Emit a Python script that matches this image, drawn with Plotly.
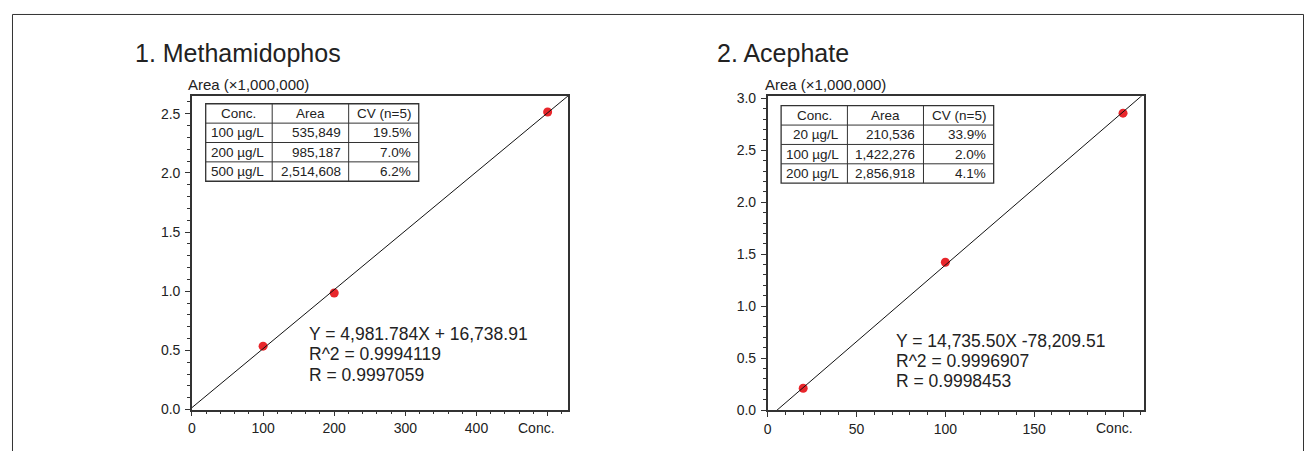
import plotly.graph_objects as go

# page is 1312x459; the browser body keeps an 8px margin, so the figure is
# sized to fit inside it and all reference pixel positions are shifted by 8px
PAGE_W, PAGE_H = 1312, 459
OFF = 8
FW, FH = PAGE_W - 2 * OFF, PAGE_H - 2 * OFF

# ---------------- data ----------------
titles = ["1. Methamidophos", "2. Acephate"]
conc1 = [100, 200, 500]
area1 = [535849, 985187, 2514608]
cv1 = ["19.5%", "7.0%", "6.2%"]
slope1, intercept1 = 4981.784, 16738.91
eq1 = ["Y = 4,981.784X + 16,738.91", "R^2 = 0.9994119", "R = 0.9997059"]

conc2 = [20, 100, 200]
area2 = [210536, 1422276, 2856918]
cv2 = ["33.9%", "2.0%", "4.1%"]
slope2, intercept2 = 14735.50, -78209.51
eq2 = ["Y = 14,735.50X -78,209.51", "R^2 = 0.9996907", "R = 0.9998453"]

xticks1 = [0, 100, 200, 300, 400, 500]
xticks2 = [0, 50, 100, 150, 200]
yticks1 = [0.0, 0.5, 1.0, 1.5, 2.0, 2.5]
yticks2 = [0.0, 0.5, 1.0, 1.5, 2.0, 2.5, 3.0]
table_header = ["Conc.", "Area", "CV (n=5)"]
scale = 1e6

# ---------------- layout helpers ----------------
def px(x):
    return (x - OFF) / FW

def py(y):
    return 1 - (y - OFF) / FH

FONT = "Liberation Sans, Arial, sans-serif"
TXT = "#222222"
LINE = "#333333"
RED = "#e8262b"

fig = go.Figure()

panels = [
    dict(conc=conc1, area=area1, cv=cv1, slope=slope1, icpt=intercept1, eq=eq1,
         xr=[0, 529], yr=[0, 2.651], xt=xticks1, yt=yticks1, xminor=20,
         dom=[188.5, 566], ydom=[92.5, 416.5], xa="x", ya="y",
         title_x=129, area_x=183,
         tbl_x=[202.3, 269, 345.7, 416], tbl_y=100.7,
         eq_x=304, eq_y=338.8, conc_x=534.5),
    dict(conc=conc2, area=area2, cv=cv2, slope=slope2, icpt=intercept2, eq=eq2,
         xr=[0, 211.8], yr=[0, 3.019], xt=xticks2, yt=yticks2, xminor=10,
         dom=[766, 1143.5], ydom=[93, 417], xa="x2", ya="y2",
         title_x=713, area_x=761,
         tbl_x=[779.5, 846, 922.3, 992.7], tbl_y=102.7,
         eq_x=893, eq_y=345.5, conc_x=1113.7),
]

annotations = []
shapes = []

for i, p in enumerate(panels):
    # data points
    fig.add_trace(go.Scatter(
        x=p["conc"], y=[a / scale for a in p["area"]], mode="markers",
        marker=dict(color=RED, size=9), xaxis=p["xa"], yaxis=p["ya"],
        showlegend=False, hoverinfo="x+y"))
    # regression line
    lx = [0, p["xr"][1]]
    ly = [(p["slope"] * v + p["icpt"]) / scale for v in lx]
    fig.add_trace(go.Scatter(
        x=lx, y=ly, mode="lines", line=dict(color="#111111", width=1),
        xaxis=p["xa"], yaxis=p["ya"], showlegend=False, hoverinfo="skip"))

    axsuffix = "" if i == 0 else "2"
    fig.update_layout(**{
        "xaxis" + axsuffix: dict(
            domain=[px(p["dom"][0]), px(p["dom"][1])], range=p["xr"],
            anchor=p["ya"], tickvals=p["xt"],
            ticktext=[str(v) for v in p["xt"][:-1]] + [""],
            showgrid=False, zeroline=False, showline=True, mirror=True,
            linecolor=LINE, linewidth=1.5, ticks="outside", ticklen=5,
            tickcolor=LINE, tickwidth=1, tickfont=dict(size=14, color=TXT, family=FONT),
            minor=dict(dtick=p["xminor"], ticks="outside", ticklen=3,
                       tickcolor=LINE, tickwidth=1, showgrid=False),
            fixedrange=True),
        "yaxis" + axsuffix: dict(
            domain=[py(p["ydom"][1]), py(p["ydom"][0])], range=p["yr"],
            anchor=p["xa"], tickvals=p["yt"], tickformat=".1f",
            showgrid=False, zeroline=False, showline=True, mirror=True,
            linecolor=LINE, linewidth=1.5, ticks="outside", ticklen=5,
            ticklabelstandoff=2,
            tickcolor=LINE, tickwidth=1, tickfont=dict(size=14, color=TXT, family=FONT),
            minor=dict(dtick=0.1, ticks="outside", ticklen=3,
                       tickcolor=LINE, tickwidth=1, showgrid=False),
            fixedrange=True),
    })

    # title
    annotations.append(dict(text=titles[i], x=px(p["title_x"]), y=py(48.3),
                            xref="paper", yref="paper", xanchor="left", yanchor="middle",
                            showarrow=False, font=dict(size=25, color=TXT, family=FONT)))
    # axis label
    annotations.append(dict(text="Area (\u00d71,000,000)", x=px(p["area_x"]), y=py(81),
                            xref="paper", yref="paper", xanchor="left", yanchor="middle",
                            showarrow=False, font=dict(size=15, color=TXT, family=FONT)))
    # Conc. label
    annotations.append(dict(text="Conc.", x=px(p["conc_x"]), y=py(435),
                            xref="paper", yref="paper", xanchor="center", yanchor="middle",
                            showarrow=False, font=dict(size=14, color=TXT, family=FONT)))
    # equation
    for k, line in enumerate(p["eq"]):
        annotations.append(dict(text=line, x=px(p["eq_x"]), y=py(p["eq_y"] + k * 20.8),
                                xref="paper", yref="paper", xanchor="left", yanchor="middle",
                                showarrow=False, font=dict(size=17.5, color=TXT, family=FONT)))

    # table
    tx = p["tbl_x"]
    rh = 20
    ty0 = p["tbl_y"]
    nrows = len(p["conc"]) + 1
    ty = [ty0 + r * rh for r in range(nrows + 1)]
    shapes.append(dict(type="rect", xref="paper", yref="paper",
                       x0=px(tx[0]), x1=px(tx[-1]), y0=py(ty[-1]), y1=py(ty[0]),
                       line=dict(color=LINE, width=1.3), fillcolor="white", layer="above"))
    for xv in tx[1:-1]:
        shapes.append(dict(type="line", xref="paper", yref="paper",
                           x0=px(xv), x1=px(xv), y0=py(ty[-1]), y1=py(ty[0]),
                           line=dict(color=LINE, width=1)))
    for yv in ty[1:-1]:
        shapes.append(dict(type="line", xref="paper", yref="paper",
                           x0=px(tx[0]), x1=px(tx[-1]), y0=py(yv), y1=py(yv),
                           line=dict(color=LINE, width=1)))
    rows = [table_header] + [[f"{c} \u00b5g/L", f"{a:,}", v]
                             for c, a, v in zip(p["conc"], p["area"], p["cv"])]
    for r, row in enumerate(rows):
        yc = (ty[r] + ty[r + 1]) / 2
        for c, cell in enumerate(row):
            if r == 0:
                xpos, anchor = (tx[c] + tx[c + 1]) / 2, "center"
            else:
                xpos, anchor = tx[c + 1] - 6, "right"
            annotations.append(dict(text=cell, x=px(xpos), y=py(yc),
                                    xref="paper", yref="paper", xanchor=anchor,
                                    yanchor="middle", showarrow=False,
                                    font=dict(size=13.5, color=TXT, family=FONT)))

# outer frame (kept inside the figure area)
shapes.append(dict(type="rect", xref="paper", yref="paper",
                   x0=px(OFF + 0.5), x1=px(OFF + FW - 0.5), y0=py(OFF + FH + 20), y1=py(OFF + 0.5),
                   line=dict(color=LINE, width=1), layer="below"))

fig.update_layout(width=FW, height=FH, margin=dict(l=0, r=0, t=0, b=0),
                  paper_bgcolor="white", plot_bgcolor="white",
                  annotations=annotations, shapes=shapes,
                  font=dict(family=FONT, color=TXT), showlegend=False)

fig.write_html("out.html")
